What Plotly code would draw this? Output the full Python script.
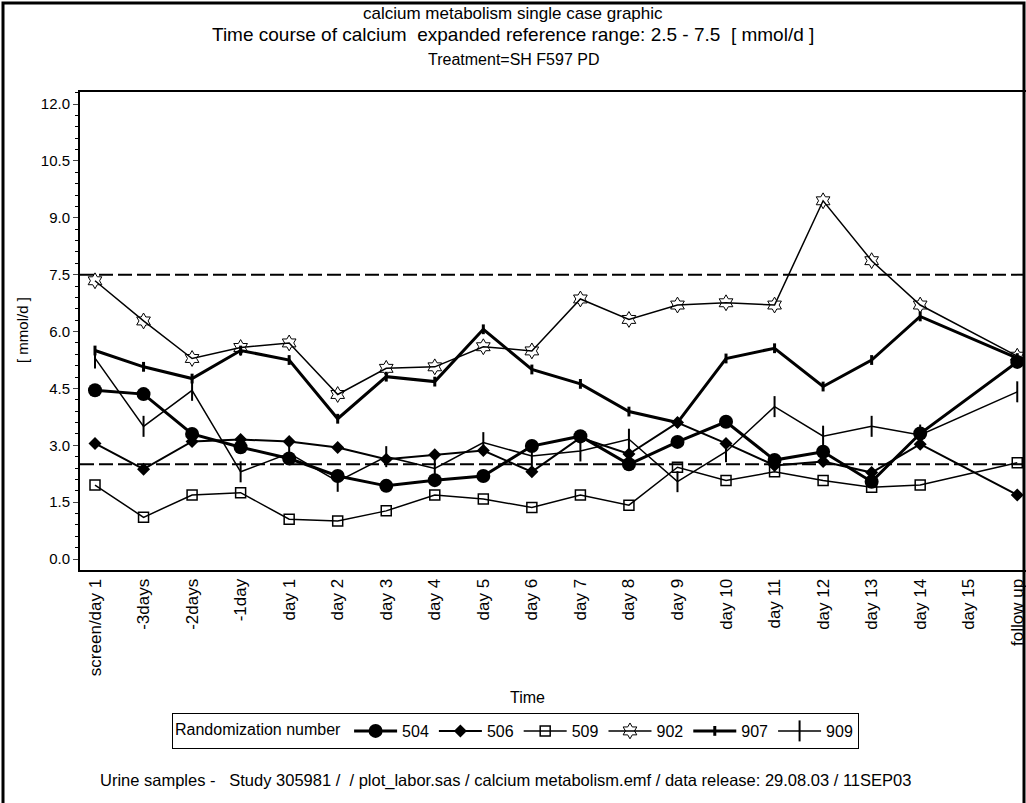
import plotly.graph_objects as go

# Visit categories along the time axis
visits = ["screen/day 1", "-3days", "-2days", "-1day", "day 1", "day 2", "day 3",
          "day 4", "day 5", "day 6", "day 7", "day 8", "day 9", "day 10",
          "day 11", "day 12", "day 13", "day 14", "day 15", "follow up"]

# Urine calcium per randomization number [mmol/d]; None = no sample
ca_504 = [4.45, 4.35, 3.30, 2.95, 2.65, 2.19, 1.93, 2.08, 2.19, 2.98,
          3.24, 2.50, 3.09, 3.62, 2.61, 2.83, 2.04, 3.31, None, 5.20]
ca_506 = [3.05, 2.37, 3.10, 3.15, 3.10, 2.94, 2.63, 2.75, 2.86, 2.30,
          3.20, 2.77, 3.60, 3.05, 2.47, 2.57, 2.28, 3.03, None, 1.69]
ca_509 = [1.95, 1.10, 1.69, 1.75, 1.05, 1.00, 1.27, 1.69, 1.58, 1.36,
          1.69, 1.42, 2.42, 2.07, 2.30, 2.07, 1.89, 1.95, None, 2.54]
ca_902 = [7.34, 6.28, 5.29, 5.58, 5.70, 4.34, 5.03, 5.07, 5.60, 5.49,
          6.86, 6.32, 6.70, 6.76, 6.70, 9.45, 7.87, 6.70, None, 5.35]
ca_907 = [5.50, 5.07, 4.76, 5.50, 5.25, 3.70, 4.81, 4.68, 6.06, 5.00,
          4.62, 3.89, 3.60, 5.29, 5.56, 4.55, 5.25, 6.40, None, 5.30]
ca_909 = [5.30, 3.50, 4.45, 2.30, 2.79, 2.05, 2.70, 2.39, 3.07, 2.72,
          2.85, 3.16, 2.04, 2.83, 4.02, 3.24, 3.50, 3.27, None, 4.41]

ref_low, ref_high = 2.5, 7.5
y_ticks = [0.0, 1.5, 3.0, 4.5, 6.0, 7.5, 9.0, 10.5, 12.0]

FONT = "Liberation Sans, Arial, sans-serif"

# plot area in pixels: x 80..1026, y 92..570
L, T, R, B = 80, 92, 1026, 570
W, H = R - L, B - T


def px(x):
    return (x - L) / W


def py(y):
    return (B - y) / H


series = [
    ("504", ca_504, dict(symbol="circle", size=14, color="black"), 3),
    ("506", ca_506, dict(symbol="diamond", size=10, color="black"), 2),
    ("509", ca_509, dict(symbol="square-open", size=10, color="black",
                         line=dict(width=1.5, color="black")), 1.5),
    ("902", ca_902, dict(symbol="hexagram-open", size=12, color="black",
                         line=dict(width=1, color="black")), 1.5),
    ("907", ca_907, dict(symbol="line-ns-open", size=7, color="black",
                         line=dict(width=3, color="black")), 3),
    ("909", ca_909, dict(symbol="line-ns-open", size=15, color="black",
                         line=dict(width=2, color="black")), 1.5),
]

fig = go.Figure()
for name, vals, marker, lw in series:
    fig.add_trace(go.Scatter(
        x=visits, y=vals, name=name, mode="lines+markers",
        line=dict(color="black", width=lw), marker=marker,
        connectgaps=True, cliponaxis=False,
    ))

# reference range limits
for lvl in (ref_low, ref_high):
    fig.add_shape(type="line", xref="paper", yref="y", x0=0, x1=1, y0=lvl, y1=lvl,
                  line=dict(color="black", width=2, dash="14px,5px"))

# outer frame of the page
fig.add_shape(type="rect", xref="paper", yref="paper",
              x0=px(3), x1=px(1024), y0=py(900), y1=py(3),
              line=dict(color="black", width=3))


def note(text, x, y, size, **kw):
    fig.add_annotation(text=text, xref="paper", yref="paper", x=px(x), y=py(y),
                       yanchor="middle", showarrow=False, borderpad=0,
                       font=dict(family=FONT, size=size, color="black"), **kw)


note("calcium metabolism single case graphic", 513, 13, 17)
note("Time course of calcium  expanded reference range: 2.5 - 7.5  [ mmol/d ]", 513, 35, 19)
note("Treatment=SH F597 PD", 513, 59, 16)
note("Time", 527, 697, 16)
note("[ mmol/d ]", 22, 330, 15, textangle=-90, xanchor="center")
note("Urine samples -   Study 305981 /  / plot_labor.sas / calcium metabolism.emf / data release: 29.08.03 / 11SEP03",
     505, 780, 16.5)

fig.update_layout(
    width=1026, height=803,
    margin=dict(l=L, r=1026 - R, t=T, b=803 - B),
    paper_bgcolor="white", plot_bgcolor="white",
    font=dict(family=FONT, color="black", size=16),
    showlegend=True,
    legend=dict(
        orientation="h", x=px(172), xanchor="left",
        y=py(713), yanchor="top",
        title=dict(text="Randomization number", side="left", font=dict(size=16)),
        font=dict(size=16), bordercolor="black", borderwidth=1,
        bgcolor="white", itemwidth=43, tracegroupgap=0,
    ),
    xaxis=dict(
        type="category", categoryorder="array", categoryarray=visits,
        range=[-0.309, 19.18], tickangle=-90, tickfont=dict(size=17),
        showline=True, linecolor="black", linewidth=2, mirror=True,
        showgrid=False, zeroline=False, ticks="", ticklen=0,
    ),
    yaxis=dict(
        range=[-0.29, 12.32], tickvals=y_ticks, tickformat=".1f",
        tickfont=dict(size=15), showline=True, linecolor="black", linewidth=2,
        showgrid=False, zeroline=False, ticks="outside", ticklen=5, tickwidth=1,
        minor=dict(dtick=0.3, ticks="outside", ticklen=3, tickcolor="black"),
    ),
)

fig.write_html("out.html")
